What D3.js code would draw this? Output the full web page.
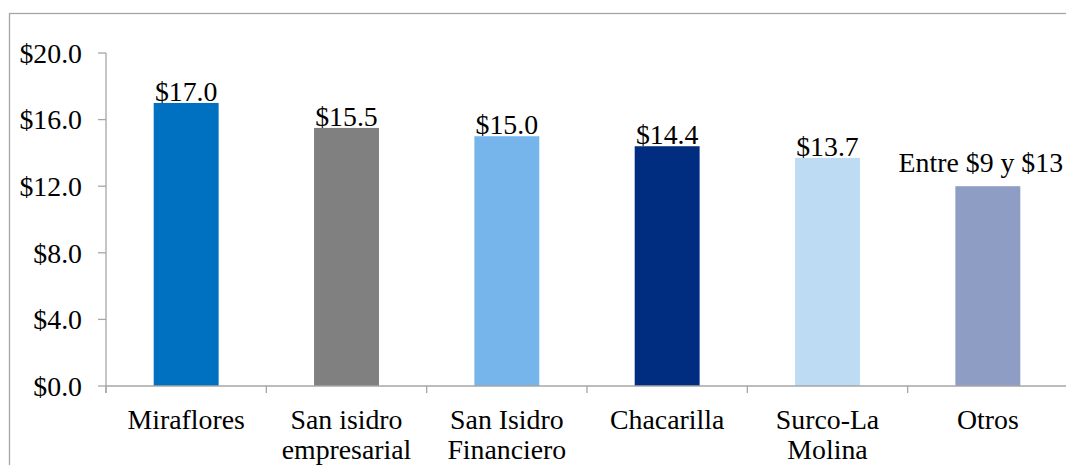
<!DOCTYPE html>
<html><head><meta charset="utf-8">
<script src="https://cdn.jsdelivr.net/npm/d3@7"></script>
<style>html,body{margin:0;padding:0;background:#fff;overflow:hidden}</style>
</head><body>
<svg id="c" width="1066" height="465"></svg>
<script>
const categories = [["Miraflores"],["San isidro","empresarial"],["San Isidro","Financiero"],["Chacarilla"],["Surco-La","Molina"],["Otros"]];
const values = [17.0, 15.5, 15.0, 14.4, 13.7, 12.0];
const valueLabels = ["$17.0","$15.5","$15.0","$14.4","$13.7","Entre $9 y $13"];
const colors = ["#0070C0","#808080","#76B5EB","#002D7F","#BDDCF4","#8E9DC3"];
const yTicks = [0,4,8,12,16,20];

(function(){
const svg = d3.select("#c");
const font = "Liberation Serif, Times New Roman, serif";
const fs = 27.8;
const axisColor = "#a6a6a6";

// outer border
svg.append("rect").attr("x",9.5).attr("y",13.5).attr("width",1070).attr("height",470)
  .attr("fill","none").attr("stroke",axisColor).attr("stroke-width",1.3);

const pLeft = 106, pRight = 1068, pTop = 53, pBottom = 386;
const ids = categories.map((d,i)=>i);
const x = d3.scaleBand().domain(ids).range([pLeft,pRight]).paddingInner(0.595).paddingOuter(0.2975);
const y = d3.scaleLinear().domain([0,20]).range([pBottom,pTop]);

// bars
svg.selectAll("rect.bar").data(values).enter().append("rect").attr("class","bar")
  .attr("x",(d,i)=>x(i)).attr("width",x.bandwidth())
  .attr("y",d=>y(d)).attr("height",d=>y(0)-y(d))
  .attr("fill",(d,i)=>colors[i]);

// y axis
svg.append("line").attr("x1",pLeft).attr("x2",pLeft).attr("y1",y(20)).attr("y2",y(0)+7)
  .attr("stroke",axisColor).attr("stroke-width",1.3);
yTicks.forEach(t=>{
  svg.append("line").attr("x1",pLeft-8).attr("x2",pLeft).attr("y1",y(t)).attr("y2",y(t))
    .attr("stroke",axisColor).attr("stroke-width",1.3);
  svg.append("text").attr("x",pLeft-24).attr("y",y(t)).attr("dy","0.35em")
    .attr("text-anchor","end").attr("font-family",font).attr("font-size",fs).attr("fill","#000")
    .text("$"+t.toFixed(1));
});

// x axis
svg.append("line").attr("x1",pLeft).attr("x2",pRight).attr("y1",y(0)).attr("y2",y(0))
  .attr("stroke",axisColor).attr("stroke-width",1.3);
const gap = (x.step()-x.bandwidth())/2;
ids.concat([ids.length]).forEach(i=>{
  const xp = i<ids.length ? x(i)-gap : x(ids.length-1)+x.bandwidth()+gap;
  svg.append("line").attr("x1",xp).attr("x2",xp).attr("y1",y(0)).attr("y2",y(0)+7)
    .attr("stroke",axisColor).attr("stroke-width",1.3);
});
categories.forEach((lines,i)=>{
  const t = svg.append("text").attr("text-anchor","middle").attr("font-family",font)
    .attr("font-size",fs).attr("fill","#000");
  lines.forEach((ln,j)=>{
    t.append("tspan").attr("x",x(i)+x.bandwidth()/2).attr("y",429+j*30).text(ln);
  });
});

// value labels
values.forEach((v,i)=>{
  const last = i===values.length-1;
  svg.append("text").attr("x",x(i)+x.bandwidth()/2 + (last?-7:0)).attr("y",y(v)-(last?14:2))
    .attr("text-anchor","middle").attr("font-family",font).attr("font-size",fs).attr("fill","#000")
    .text(valueLabels[i]);
});
})();
</script>
</body></html>
